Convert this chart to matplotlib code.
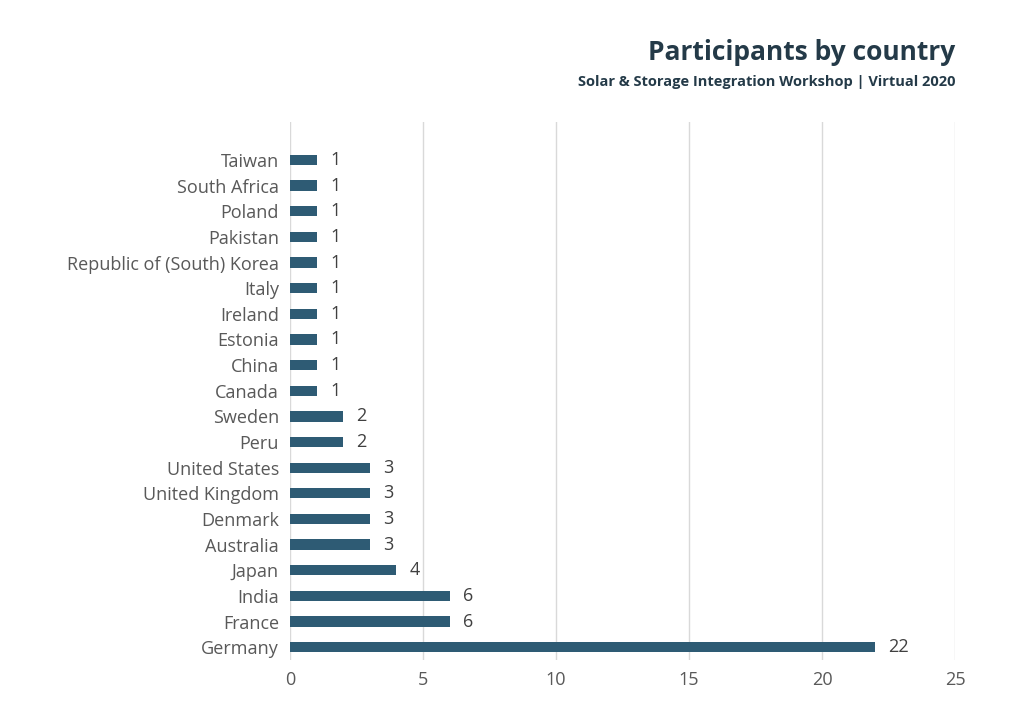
import matplotlib
matplotlib.use("Agg")
import matplotlib.pyplot as plt

countries = ["Germany","France","India","Japan","Australia","Denmark","United Kingdom","United States",
             "Peru","Sweden","Canada","China","Estonia","Ireland","Italy","Republic of (South) Korea",
             "Pakistan","Poland","South Africa","Taiwan"]
values = [22,6,6,4,3,3,3,3,2,2,1,1,1,1,1,1,1,1,1,1]
xticks = [0,5,10,15,20,25]

plt.rcParams["font.family"] = "Open Sans"
fig = plt.figure(figsize=(10.24,7.24), dpi=100)
ax = fig.add_axes([290/1024, 1-660/724, 665/1024, 538/724])
y = list(range(len(countries)))
ax.barh(y, values, height=0.4, color="#2e5b74", zorder=3)
for yi, v in zip(y, values):
    ax.text(v+0.5, yi, str(v), va="center", ha="left", fontsize=13, color="#404040")
ax.set_yticks(y)
ax.set_yticklabels(countries, fontsize=13, color="#595959")
ax.set_xticks(xticks)
ax.set_xticklabels([str(t) for t in xticks], fontsize=13, color="#595959")
ax.set_xlim(0,25)
ax.set_ylim(-0.5, 20.48)
ax.grid(axis="x", color="#d9d9d9", linewidth=1, zorder=0)
for s in ax.spines.values():
    s.set_visible(False)
ax.tick_params(length=0, pad=8)
fig.text(955/1024, 1-52/724, "Participants by country", ha="right", va="center",
         fontsize=19, fontweight="bold", color="#243a48")
fig.text(955/1024, 1-82/724, "Solar & Storage Integration Workshop | Virtual 2020", ha="right", va="center",
         fontsize=10.5, fontweight="bold", color="#243a48")
fig.savefig("out.png", dpi=100, facecolor="white")
